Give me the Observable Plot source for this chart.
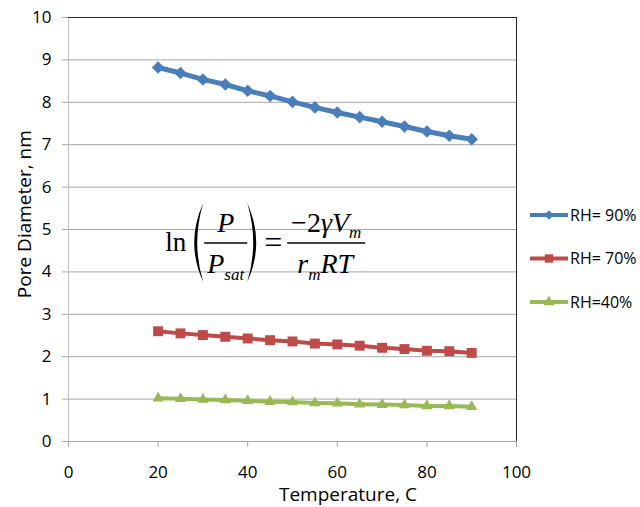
<!DOCTYPE html>
<html><head><meta charset="utf-8">
<script src="https://cdn.jsdelivr.net/npm/d3@7"></script>
<script src="https://cdn.jsdelivr.net/npm/@observablehq/plot@0.6"></script>
<style>
body{margin:0;background:#fff}
#chart{position:relative;width:640px;height:507px}
</style>
</head><body><div id="chart"></div>
<script>
const temperature = [20,25,30,35,40,45,50,55,60,65,70,75,80,85,90];
const rh90 = [8.82,8.69,8.54,8.42,8.27,8.15,8.01,7.88,7.76,7.65,7.54,7.43,7.31,7.21,7.13];
const rh70 = [2.60,2.55,2.51,2.47,2.43,2.39,2.36,2.31,2.29,2.26,2.21,2.18,2.14,2.13,2.09];
const rh40 = [1.02,1.01,0.99,0.98,0.96,0.94,0.93,0.91,0.90,0.88,0.87,0.86,0.84,0.84,0.82];
const seriesNames = ["RH= 90%","RH= 70%","RH=40%"];
const seriesColors = ["#4a7ebb","#be4b48","#98b954"];
const xTicks = [0,20,40,60,80,100];
const yTicks = [0,1,2,3,4,5,6,7,8,9,10];
const xTitle = "Temperature, C";
const yTitle = "Pore Diameter, nm";

const diamondSym = {draw(ctx,size){const r=Math.sqrt(size/2);ctx.moveTo(0,-r);ctx.lineTo(r,0);ctx.lineTo(0,r);ctx.lineTo(-r,0);ctx.closePath();}};
const seriesValues = [rh90, rh70, rh40];
const symbols = [diamondSym, "square", "triangle"];
const radii = [5, 5.6, 4.2];
const widths = [5, 4, 4];

const series = seriesNames.map((name,i)=>temperature.map((t,j)=>({t, v: seriesValues[i][j], name})));

const marks = [
  Plot.gridY(yTicks.filter(d=>d>0&&d<10), {stroke:"#a6a6a6", strokeOpacity:1}),
  Plot.ruleX([0], {stroke:"#c0c0c0"}),
  Plot.ruleY([0], {stroke:"#a6a6a6"}),
  Plot.ruleY([10], {stroke:"#262626"}),
  Plot.ruleX([100], {stroke:"#262626"}),
  Plot.axisX({ticks:xTicks, tickSize:6, tickPadding:18, stroke:"#a6a6a6", label:null, fontSize:17}),
  Plot.axisY({ticks:yTicks, tickSize:6, tickPadding:11, stroke:"#a6a6a6", label:null, fontSize:17})
];
series.forEach((s,i)=>{
  marks.push(Plot.line(s, {x:"t", y:"v", stroke:seriesColors[i], strokeWidth:widths[i]}));
  marks.push(Plot.dot(s, {x:"t", y:"v", fill:seriesColors[i], symbol:symbols[i], r:radii[i]}));
});

const chart = Plot.plot({
  width:640, height:507,
  marginLeft:68, marginRight:124, marginTop:17, marginBottom:66,
  style:{fontFamily:"'Open Sans', sans-serif", fontSize:"16px", color:"#000", background:"#fff"},
  x:{domain:[0,100]}, y:{domain:[0,10]},
  marks
});
document.getElementById("chart").appendChild(chart);

const svg = d3.select(chart);
const sx = chart.scale("x"), sy = chart.scale("y");

// axis titles
svg.append("text").attr("transform",`translate(24,${sy.apply(5.35)}) rotate(-90)`)
  .attr("text-anchor","middle").attr("dy","0.35em").style("font-size","19px").attr("fill","#000").text(yTitle);
svg.append("text").attr("x", sx.apply(62.5)).attr("y", 501)
  .attr("text-anchor","middle").style("font-size","19px").attr("fill","#000").text(xTitle);

// legend
const lg = svg.append("g");
const legSyms = [diamondSym, d3.symbolSquare, d3.symbolTriangle];
const legSizes = [45, 70, 55];
seriesNames.forEach((name,i)=>{
  const y = 215 + i*43.5;
  lg.append("line").attr("x1",530).attr("x2",568).attr("y1",y).attr("y2",y)
    .attr("stroke",seriesColors[i]).attr("stroke-width",4);
  lg.append("path").attr("transform",`translate(549,${y})`)
    .attr("d", d3.symbol(legSyms[i], legSizes[i])()).attr("fill",seriesColors[i]);
  lg.append("text").attr("x",570).attr("y",y).attr("dy","0.36em").attr("text-anchor","start")
    .style("font-size","16px").attr("fill","#000").text(name);
});

// equation
const ox = sx.apply(21.7), oy = sy.apply(4.67);
const eq = svg.append("g").style("font-family","'Liberation Serif', 'Times New Roman', serif").attr("fill","#000");
eq.append("text").attr("x",ox).attr("y",oy+8).attr("text-anchor","start").style("font-size","27px").text("ln");
eq.append("path").attr("d",`M${ox+38},${oy-40} Q${ox+20},${oy} ${ox+38},${oy+39} Q${ox+26},${oy} ${ox+38},${oy-40}Z`);
eq.append("path").attr("d",`M${ox+82},${oy-40} Q${ox+100},${oy} ${ox+82},${oy+39} Q${ox+94},${oy} ${ox+82},${oy-40}Z`);
eq.append("text").attr("x",ox+60.5).attr("y",oy-11).attr("text-anchor","middle")
  .style("font-size","28px").style("font-style","italic").text("P");
eq.append("line").attr("x1",ox+39).attr("x2",ox+82).attr("y1",oy).attr("y2",oy).attr("stroke","#000").attr("stroke-width",1.3);
const dp = eq.append("text").attr("x",ox+42).attr("y",oy+30).attr("text-anchor","start").style("font-size","28px").style("font-style","italic");
dp.append("tspan").text("P");
dp.append("tspan").attr("dy",7).style("font-size","17px").text("sat");
eq.append("text").attr("x",ox+108).attr("y",oy+10).attr("text-anchor","middle").style("font-size","32px").text("=");
const n2 = eq.append("text").attr("x",ox+161).attr("y",oy-11).attr("text-anchor","middle").style("font-size","28px");
n2.append("tspan").text("\u22122");
n2.append("tspan").style("font-style","italic").text("\u03B3V");
n2.append("tspan").attr("dy",6).style("font-style","italic").style("font-size","17px").text("m");
eq.append("line").attr("x1",ox+122).attr("x2",ox+200).attr("y1",oy).attr("y2",oy).attr("stroke","#000").attr("stroke-width",1.3);
const d2 = eq.append("text").attr("x",ox+160).attr("y",oy+30).attr("text-anchor","middle").style("font-size","28px").style("font-style","italic");
d2.append("tspan").text("r");
d2.append("tspan").attr("dy",7).style("font-size","17px").text("m");
d2.append("tspan").attr("dy",-7).text("RT");
</script>
</body></html>
